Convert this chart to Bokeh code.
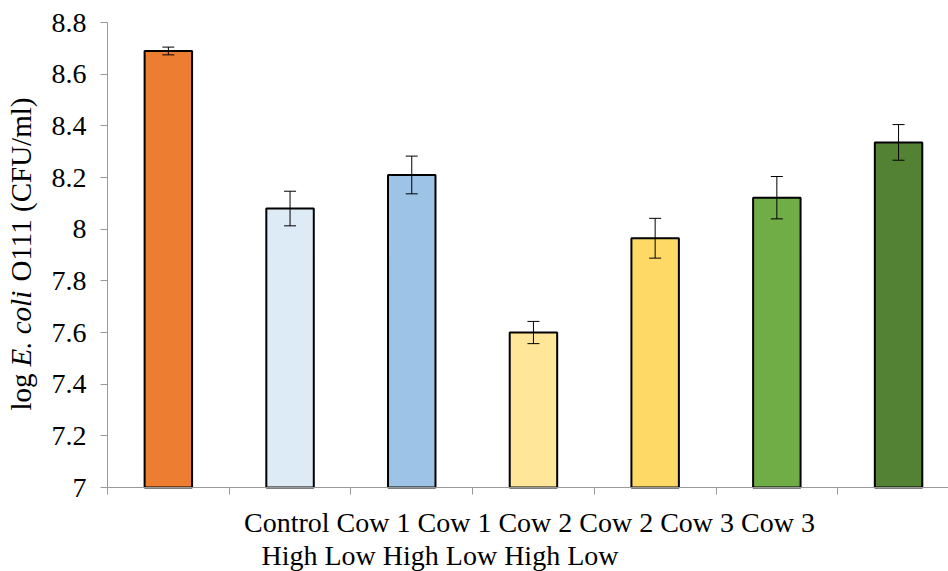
import numpy as np
from bokeh.plotting import figure
from bokeh.models import (ColumnDataSource, Range1d, FixedTicker, NumeralTickFormatter,
                          CustomJSTickFormatter, Whisker, TeeHead)
from bokeh.core.properties import value
from bokeh.embed import file_html
from bokeh.resources import INLINE

# ---- data ----
categories = ["Control", "Cow 1 High", "Cow 1 Low", "Cow 2 High",
              "Cow 2 Low", "Cow 3 High", "Cow 3 Low"]
means = [8.69, 8.08, 8.21, 7.60, 7.965, 8.122, 8.336]
errors = [0.015, 0.067, 0.073, 0.043, 0.077, 0.082, 0.069]
colors = ["#ED7D31", "#DDEBF7", "#9DC3E6", "#FFE699", "#FFD966", "#70AD47", "#548235"]
y_ticks = [7.0, 7.2, 7.4, 7.6, 7.8, 8.0, 8.2, 8.4, 8.6, 8.8]
y_label_parts = ["log", "E. coli", "O111 (CFU/ml)"]
y_label_styles = ["normal", "italic", "normal"]

FONT = "Times New Roman"
FS = "28px"
YFS = "29px"
AXIS_GRAY = "#999999"

n = len(categories)
xs = np.arange(n)
lower = [m - e for m, e in zip(means, errors)]
upper = [m + e for m, e in zip(means, errors)]
src = ColumnDataSource(dict(x=xs, top=means, color=colors, lower=lower, upper=upper))

# geometry: canvas pixel <-> data
W, H = 948, 571
PX_LEFT = 107.0     # pixel x of category boundary -0.5
CAT_PX = 121.7      # pixels per category
PY7 = 487.0         # pixel y of value 7
PPU = 258.3         # pixels per value unit

def px2x(px):
    return -0.5 + (px - PX_LEFT) / CAT_PX

def py2y(py):
    return 7.0 + (PY7 - py) / PPU

p = figure(width=W, height=H, output_backend="svg", toolbar_location=None,
           x_range=Range1d(px2x(0), px2x(W)), y_range=Range1d(py2y(H), py2y(0)),
           min_border=0, min_border_left=0, min_border_right=0,
           min_border_top=0, min_border_bottom=0)
p.outline_line_color = None
p.xgrid.visible = False
p.ygrid.visible = False

p.vbar(x="x", top="top", bottom=7.0, width=0.39, source=src,
       fill_color="color", line_color="black", line_width=2)

wh = Whisker(source=src, base="x", upper="upper", lower="lower", level="overlay",
             line_color="black", line_width=1,
             upper_head=TeeHead(size=12, line_color="black", line_width=1),
             lower_head=TeeHead(size=12, line_color="black", line_width=1))
p.add_layout(wh)

# y axis
yax = p.yaxis[0]
yax.fixed_location = -0.5
yax.bounds = (y_ticks[0], y_ticks[-1])
yax.ticker = FixedTicker(ticks=y_ticks)
yax.formatter = NumeralTickFormatter(format="0.[0]")
yax.major_label_text_font = FONT
yax.major_label_text_font_size = FS
yax.major_label_text_color = "black"
yax.major_label_standoff = 14
yax.major_tick_in = 0
yax.major_tick_out = 7
yax.minor_tick_line_color = None
yax.axis_line_color = AXIS_GRAY
yax.major_tick_line_color = AXIS_GRAY

# x axis
xax = p.xaxis[0]
xax.fixed_location = 7.0
xax.bounds = (-0.5, px2x(W))
xax.ticker = FixedTicker(ticks=[i - 0.5 for i in range(n + 1)])
xax.formatter = CustomJSTickFormatter(code='return ""')
xax.major_tick_in = 0
xax.major_tick_out = 7
xax.minor_tick_line_color = None
xax.axis_line_color = AXIS_GRAY
xax.major_tick_line_color = AXIS_GRAY

# category labels (wrapped as in the reference)
line1 = " ".join(c.replace(" High", "").replace(" Low", "") for c in categories)
line2 = " ".join(c.split(" ")[-1] for c in categories[1:])
p.text(x=[px2x(529)], y=[py2y(522)], text=[line1], text_align="center",
       text_baseline="alphabetic", text_font=value(FONT), text_font_size=FS,
       text_color="black")
p.text(x=[px2x(261)], y=[py2y(555)], text=[line2], text_align="left",
       text_baseline="alphabetic", text_font=value(FONT), text_font_size=FS,
       text_color="black")

# y axis title in pieces (italic E. coli)
starts = [410, 366, 281]
p.text(x=[px2x(20)] * 3, y=[py2y(s) for s in starts], text=y_label_parts,
       angle=np.pi / 2, text_align="left", text_baseline="alphabetic",
       text_font=value(FONT), text_font_size=YFS,
       text_font_style=y_label_styles, text_color="black")

open("out.html", "w").write(file_html(p, INLINE))
